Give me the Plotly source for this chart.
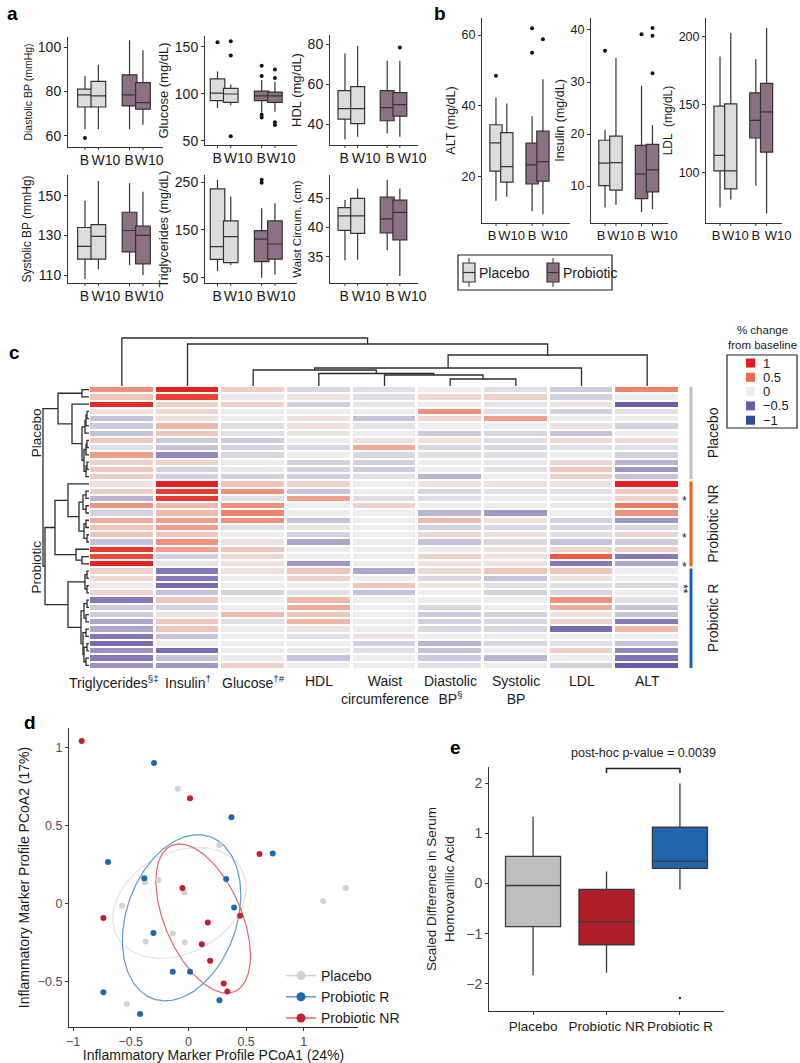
import numpy as np
import plotly.graph_objects as go
from plotly.colors import sample_colorscale

W, H = 800, 1063
FONT = "Liberation Sans, Arial, Helvetica, sans-serif"
INK = "#1a1a1a"
AXC = "#333333"
GREYTXT = "#4d4d4d"

# ====================== DATA ======================
# Panels a & b: [lower whisker, Q1, median, Q3, upper whisker]
# box order: Placebo B, Placebo W10, Probiotic B, Probiotic W10
TIME_LABELS = ["B", "W10", "B", "W10"]
ARMS = ["Placebo", "Probiotic"]
ARM_OF_BOX = [0, 0, 1, 1]

DIASTOLIC = [[63, 73, 78.5, 81, 87], [63, 73, 78, 84.5, 92], [63, 73.5, 78.5, 87.5, 103], [65, 72, 75, 84, 98.5]]
DIASTOLIC_OUT = [[59], [], [], []]
GLUCOSE = [[85, 93, 101, 116, 124], [88, 91, 100, 106, 110], [80, 93, 98, 103, 115], [81, 91, 98, 102, 113]]
GLUCOSE_OUT = [[155], [156, 141, 55], [130, 119, 78, 75], [126, 117, 70, 67]]
HDL = [[32.3, 42.5, 47.8, 56.7, 75.3], [33.7, 40.3, 47.8, 58.7, 79], [35.3, 41.7, 48.3, 56.7, 71.7], [33.7, 44, 49.8, 55.7, 71.7]]
HDL_OUT = [[], [], [], [78.3]]
SYSTOLIC = [[108, 118, 124.5, 134, 147.5], [113, 118, 129.5, 135.5, 157.5], [115, 121.7, 132.5, 141.7, 156.3], [110, 115.7, 130, 134.7, 152]]
SYSTOLIC_OUT = [[], [], [], []]
TRIG = [[64, 88.5, 115, 236, 255], [76.5, 81.5, 136, 169, 220], [50, 83.6, 131, 148.6, 195.5], [57, 89, 120.6, 169, 206]]
TRIG_OUT = [[], [], [255, 249], []]
WAIST = [[34.4, 39.5, 42, 43.4, 44.7], [34.5, 39, 42, 45, 46.7], [36.1, 39.1, 41.5, 45.2, 48.2], [31.7, 37.9, 42.6, 44.7, 46.7]]
WAIST_OUT = [[], [], [], []]

ALT = [[13.3, 21.6, 29.6, 34.7, 42.4], [14.4, 18.5, 22.9, 32.5, 40.7], [10.3, 18, 23.4, 29.5, 37.1], [9.5, 18.8, 24.3, 32.9, 47.5]]
ALT_OUT = [[48.5], [], [61.9, 55], [58.8]]
INSULIN = [[5.9, 10.1, 14.4, 18.8, 20.8], [6.4, 9.2, 14.5, 19.6, 34.6], [5.0, 7.6, 12.3, 17.8, 29.3], [5.6, 8.9, 13.1, 18.0, 21.7]]
INSULIN_OUT = [[36], [], [39.2], [40.4, 38.9, 31.7]]
LDL = [[74.4, 101.2, 112.6, 148.8, 185.2], [80.3, 88, 101.2, 150.5, 202.5], [90.4, 125.4, 138.4, 158.6, 183.3], [70, 115, 144.6, 165.5, 206.2]]
LDL_OUT = [[], [], [], []]

# Panel c: % change from baseline (rows top->bottom, columns as labelled)
HEAT_COLUMNS = ["Triglycerides<sup>§‡</sup>", "Insulin<sup>†</sup>", "Glucose<sup>†#</sup>", "HDL",
                "Waist<br>circumference", "Diastolic<br>BP<sup>§</sup>", "Systolic<br>BP", "LDL", "ALT"]
HEAT = [
    [0.35, 0.95, 0.12, -0.08, -0.05, 0.0, -0.05, -0.12, 0.4],
    [0.15, 0.75, 0.02, 0.05, -0.05, 0.08, 0.1, -0.1, 0.0],
    [0.9, 0.1, 0.1, -0.1, -0.03, 0.0, -0.03, 0.05, -0.5],
    [0.05, 0.08, 0.0, 0.0, 0.0, 0.35, -0.05, -0.1, -0.05],
    [-0.15, 0.05, 0.0, 0.05, -0.15, 0.08, 0.3, 0.0, 0.0],
    [-0.12, 0.2, -0.05, 0.05, -0.03, 0.0, 0.0, 0.05, -0.1],
    [-0.15, 0.15, -0.05, 0.05, 0.0, -0.12, -0.08, -0.15, 0.0],
    [0.15, -0.12, -0.12, 0.0, 0.05, 0.05, -0.05, 0.08, 0.08],
    [-0.05, -0.15, -0.1, -0.08, 0.25, -0.08, -0.08, -0.05, -0.05],
    [0.3, -0.35, -0.08, 0.0, -0.08, -0.05, -0.05, 0.0, -0.1],
    [0.1, 0.1, 0.0, -0.1, -0.1, 0.0, -0.02, 0.08, -0.2],
    [0.15, -0.1, 0.02, -0.1, -0.12, 0.0, -0.05, 0.15, -0.3],
    [0.12, -0.1, -0.1, -0.1, -0.05, -0.2, 0.0, 0.1, -0.15],
    [0.05, 0.95, 0.15, 0.1, 0.0, 0.05, 0.05, 0.05, 0.95],
    [0.12, 0.8, 0.35, -0.15, 0.0, -0.08, -0.05, -0.05, 0.15],
    [-0.2, 0.8, -0.05, 0.3, -0.05, -0.05, 0.0, 0.0, 0.1],
    [0.35, 0.2, 0.35, 0.0, 0.1, 0.0, 0.0, 0.02, 0.45],
    [-0.1, 0.2, 0.4, 0.0, 0.0, -0.2, -0.3, 0.0, 0.35],
    [0.25, 0.3, 0.35, -0.15, 0.0, 0.2, 0.05, -0.1, -0.3],
    [0.15, 0.3, -0.05, 0.05, 0.0, -0.1, -0.08, -0.08, -0.08],
    [0.15, 0.15, 0.0, -0.1, 0.0, 0.08, 0.05, -0.05, 0.1],
    [-0.15, 0.35, 0.05, -0.25, 0.0, -0.15, -0.08, -0.15, -0.12],
    [0.8, 0.3, 0.15, 0.0, 0.0, 0.0, 0.05, 0.1, 0.12],
    [0.7, -0.1, 0.08, 0.0, 0.0, 0.1, 0.05, 0.6, -0.4],
    [0.95, -0.03, 0.05, -0.3, 0.0, 0.05, 0.05, -0.4, -0.25],
    [0.1, -0.4, 0.05, 0.15, -0.25, 0.08, 0.15, 0.15, 0.0],
    [0.08, -0.4, 0.0, 0.1, 0.0, -0.08, -0.15, 0.05, 0.0],
    [0.02, -0.45, 0.0, 0.0, 0.15, 0.05, -0.05, -0.05, -0.08],
    [0.1, -0.15, -0.1, -0.05, -0.15, 0.0, -0.1, -0.08, 0.0],
    [-0.4, 0.15, 0.0, 0.2, 0.0, 0.0, 0.0, 0.35, -0.05],
    [-0.12, -0.1, 0.0, 0.25, 0.0, -0.08, 0.0, 0.25, -0.15],
    [-0.12, 0.05, 0.2, 0.15, 0.0, -0.12, -0.1, 0.05, -0.15],
    [-0.25, 0.15, -0.05, 0.2, 0.0, -0.1, -0.08, 0.1, -0.4],
    [-0.25, 0.15, 0.0, 0.05, 0.0, -0.08, -0.08, -0.45, 0.2],
    [-0.4, -0.15, 0.0, -0.05, 0.05, 0.0, 0.0, 0.0, 0.0],
    [-0.45, 0.0, 0.0, 0.0, -0.1, -0.2, -0.08, -0.05, -0.15],
    [-0.32, -0.45, 0.0, 0.02, -0.05, -0.15, 0.0, 0.12, -0.35],
    [-0.4, -0.15, 0.0, -0.15, 0.0, -0.12, -0.2, 0.0, -0.42],
    [-0.32, -0.3, 0.1, 0.0, 0.0, -0.05, 0.0, -0.1, -0.55],
]
ROW_GROUPS = ["Placebo", "Probiotic NR", "Probiotic R"]
ROW_GROUP_SIZES = [13, 12, 14]
ROW_GROUP_COLORS = ["#BDBDBD", "#E8601C", "#1D5FA8"]
ASTERISK_ROWS = [15, 20, 24]
DOUBLE_ASTERISK_ROWS = [27, 28]
LEGEND_VALUES = [1, 0.5, 0, -0.5, -1]
LEGEND_LABELS = ["1", "0.5", "0", "\u22120.5", "\u22121"]

# dendrograms: [merge height, left, right]; ints are leaf indices
COL_TREE = [48, 0, [42, 1, [31, [18, [16, 2, [12.5, 3, [11, 4, [7, 5, 6]]]], 7], 8]]]
ROW_TREE_PLACEBO = [31, [7, 0, 1], [17, 2, [7, [4, [3, [2, 3, 4], 5], 6],
                                           [5, [3, [2, 7, 8], 9], [3, [2, 10, 11], 12]]]]]
ROW_TREE_NR = [34, [21, 13, [10, [6, [3, 14, 15], [3, 16, 17]], [5, [3, 18, 19], [2, 20, 21]]]],
               [13, 22, [7, 23, 24]]]
ROW_TREE_R = [21, [4, [2, 25, 26], [2, 27, 28]],
              [8, [5, [2, 29, 30], [3, 31, 32]], [6, [3, 33, 34], [5, [2, 35, 36], [3, 37, 38]]]]]
ROW_TREE = [46, ROW_TREE_PLACEBO, [44, ROW_TREE_NR, ROW_TREE_R]]

# Panel d: PCoA scores
PLACEBO_PC1 = [-0.092, 0.269, -0.376, -0.26, -0.035, -0.575, -0.136, -0.37, -0.032, -0.535, 1.364, 1.168]
PLACEBO_PC2 = [0.736, 0.376, 0.137, 0.152, 0.073, -0.013, -0.191, -0.242, -0.247, -0.642, 0.101, 0.017]
R_PC1 = [-0.298, 0.373, 0.731, -0.697, -0.382, 0.327, 0.396, -0.303, -0.136, 0.014, -0.737, 0.269, -0.419]
R_PC2 = [0.901, 0.554, 0.322, 0.268, 0.163, 0.159, -0.024, -0.187, -0.436, -0.436, -0.567, -0.618, -0.706]
NR_PC1 = [-0.925, 0.014, 0.616, -0.052, -0.737, 0.168, 0.448, 0.116, 0.188, 0.306, 0.338]
NR_PC2 = [1.043, 0.676, 0.318, 0.101, -0.092, -0.12, -0.077, -0.26, -0.365, -0.511, -0.562]
PC_GROUPS = ["Placebo", "Probiotic R", "Probiotic NR"]
PC_COLORS = ["#D2D2D2", "#1F66B0", "#C1202D"]
ELL_COLORS = ["#E2E2E2", "#5E97D3", "#E0646C"]
ELL_CX = [-0.078, -0.059, 0.128]
ELL_CY = [0.005, -0.09, -0.095]
ELL_RX = [0.578, 0.513, 0.41]
ELL_RY = [0.355, 0.532, 0.478]
ELL_PHI_DEG = [74, 74, 120]

# Panel e
E_GROUPS = ["Placebo", "Probiotic NR", "Probiotic R"]
E_STATS = [[-1.83, -0.86, -0.04, 0.54, 1.33], [-1.78, -1.22, -0.76, -0.12, 0.24], [-0.12, 0.30, 0.44, 1.12, 1.99]]
E_OUT = [[], [], [-2.28]]
E_COLORS = ["#BEBEBE", "#B01E2B", "#2166AC"]
E_BRACKET = ["Probiotic NR", "Probiotic R"]
E_BRACKET_Y = [2.2, 2.29]
E_PVALUE_Y = 2.6
E_PVALUE_TEXT = "post-hoc p-value = 0.0039"

# ====================== HELPERS ======================
def xdom(a, b):
    return [a / W, b / W]


def ydom(top, bot):
    return [1 - bot / H, 1 - top / H]


layout = {}


def make_axes(i, xd, yd, xkw, ykw):
    s = "" if i == 1 else str(i)
    layout["xaxis" + s] = dict(domain=xd, anchor="y" + s, automargin=False, **xkw)
    layout["yaxis" + s] = dict(domain=yd, anchor="x" + s, automargin=False, **ykw)
    return "x" + s, "y" + s


def axstyle(size, color=INK):
    return dict(showline=True, linecolor=AXC, linewidth=1, ticks="outside", ticklen=3,
                tickcolor=AXC, showgrid=False, zeroline=False, mirror=False, tickangle=0,
                tickfont=dict(size=size, color=color, family=FONT))


def ann(**kw):
    d = dict(showarrow=False, xanchor="center", yanchor="middle")
    d.update(kw)
    return d


hidden = dict(visible=False, showgrid=False, zeroline=False)

fig = go.Figure()
shapes = []
annotations = []
ARM_COLORS = ["#DCDCDC", "#8C7085"]
BOX_POS = [0.85, 1.15, 1.85, 2.15]

# ---------- panels a & b ----------
AB_PANELS = [
    ("Diastolic BP (mmHg)", DIASTOLIC, DIASTOLIC_OUT),
    ("Glucose (mg/dL)", GLUCOSE, GLUCOSE_OUT),
    ("HDL (mg/dL)", HDL, HDL_OUT),
    ("Systolic BP (mmHg)", SYSTOLIC, SYSTOLIC_OUT),
    ("Triglycerides (mg/dL)", TRIG, TRIG_OUT),
    ("Waist Circum. (cm)", WAIST, WAIST_OUT),
    ("ALT (mg/dL)", ALT, ALT_OUT),
    ("Insulin (mg/dL)", INSULIN, INSULIN_OUT),
    ("LDL  (mg/dL)", LDL, LDL_OUT),
]
TK1 = [0.84, 1.32, 1.84, 2.29]
TK3 = [0.83, 1.35, 1.92, 2.44]
TKB = [0.74, 1.28, 1.85, 2.47]
# geometry: x pixels, y pixels, y range, y ticks, title size, x range, box width, tick size, x tick positions
AB_GEOM = [
    ((68, 163), (37, 147), (55, 104.5), [60, 80, 100], 10.5, (0.469, 2.60), 0.33, 14, TK1),
    ((205, 297), (36, 145), (45.7, 161.7), [50, 100, 150], 13, (0.567, 2.65), 0.33, 14, TK1),
    ((330, 418), (35, 145), (29.6, 84.5), [40, 60, 80], 13, (0.495, 2.58), 0.33, 14, TK3),
    ((68, 163), (175, 283), (106, 160.5), [110, 130, 150], 12, (0.469, 2.60), 0.33, 14, TK1),
    ((205, 297), (175, 283), (39, 265), [50, 150, 250], 12.5, (0.567, 2.65), 0.33, 14, TK1),
    ((330, 418), (175, 283), (30.5, 49), [35, 40, 45], 11.5, (0.495, 2.58), 0.33, 14, TK3),
    ((482, 570), (18, 223), (7, 64.8), [20, 40, 60], 12.5, (0.463, 2.9), 0.34, 12.5, TKB),
    ((591, 668), (18, 223), (2.9, 42.3), [10, 20, 30, 40], 12.5, (0.466, 2.575), 0.34, 12.5, TKB),
    ((706, 782), (18, 223), (63, 213.5), [100, 150, 200], 12, (0.459, 2.58), 0.34, 12.5, TKB),
]

for k, ((title, stats, outs), geom) in enumerate(zip(AB_PANELS, AB_GEOM)):
    (xa, xb), (yt, yb), yr, tv, tsize, xr, bw, ticksz, tkx = geom
    xk, yk = make_axes(
        k + 1, xdom(xa, xb), ydom(yt, yb),
        dict(axstyle(14 if k < 6 else 13), range=list(xr), tickvals=tkx, ticktext=TIME_LABELS, ticks=""),
        dict(axstyle(ticksz), range=list(yr), tickvals=tv,
             title=dict(text=title, font=dict(size=tsize, color=INK, family=FONT), standoff=3)),
    )
    for j, (st, pos) in enumerate(zip(stats, BOX_POS)):
        arm = ARM_OF_BOX[j]
        fig.add_trace(go.Box(
            x=[pos], lowerfence=[st[0]], q1=[st[1]], median=[st[2]], q3=[st[3]], upperfence=[st[4]],
            width=bw, whiskerwidth=0, fillcolor=ARM_COLORS[arm], line=dict(color=AXC, width=1.2),
            boxpoints=False, name=ARMS[arm], showlegend=False,
            xaxis=xk, yaxis=yk, hoverinfo="skip"))
        if outs[j]:
            fig.add_trace(go.Scatter(x=[pos] * len(outs[j]), y=outs[j], mode="markers",
                                     marker=dict(color="#111", size=4), showlegend=False,
                                     xaxis=xk, yaxis=yk, hoverinfo="skip"))
    # short tick marks under each box
    for pos in BOX_POS:
        shapes.append(dict(type="line", xref=xk, yref="paper", x0=pos, x1=pos,
                           y0=1 - (yb + 3) / H, y1=1 - yb / H, line=dict(color=AXC, width=1)))

# legend of panel b (drawn as a key box)
shapes.append(dict(type="rect", xref="paper", yref="paper", x0=458 / W, x1=612 / W,
                   y0=1 - 290 / H, y1=1 - 255 / H, line=dict(color="#222", width=1.2)))
for i, (arm, col) in enumerate(zip(ARMS, ARM_COLORS)):
    gx = 469 + i * 84
    shapes.append(dict(type="line", xref="paper", yref="paper", x0=gx / W, x1=gx / W,
                       y0=1 - 287 / H, y1=1 - 258 / H, line=dict(color=AXC, width=1)))
    shapes.append(dict(type="rect", xref="paper", yref="paper", x0=(gx - 6) / W, x1=(gx + 6) / W,
                       y0=1 - 282 / H, y1=1 - 263 / H, fillcolor=col, line=dict(color=AXC, width=1.2)))
    shapes.append(dict(type="line", xref="paper", yref="paper", x0=(gx - 6) / W, x1=(gx + 6) / W,
                       y0=1 - 272.5 / H, y1=1 - 272.5 / H, line=dict(color=AXC, width=1.2)))
    annotations.append(ann(text=arm, xref="paper", yref="paper", x=(gx + 8) / W, y=1 - 273 / H,
                           xanchor="left", font=dict(size=14, color=INK, family=FONT)))

# ---------- panel c: heatmap ----------
CS = [[0.0, "#2E4D9F"], [0.25, "#6D5CA9"], [0.5, "#EDEDED"], [0.75, "#F06A4B"], [1.0, "#E41A1C"]]
n_rows, n_cols = len(HEAT), len(HEAT_COLUMNS)
HX = (89, 680)
HY = (386, 669)
xh, yh = make_axes(10, xdom(*HX), ydom(*HY),
                   dict(range=[-0.5, n_cols - 0.5], showticklabels=False, showline=False, ticks="",
                        showgrid=False, zeroline=False),
                   dict(range=[n_rows - 0.5, -0.5], **hidden))
fig.add_trace(go.Heatmap(z=HEAT, x=list(range(n_cols)), y=list(range(n_rows)), zmin=-1, zmax=1,
                         colorscale=CS, showscale=False, xgap=3, ygap=2, xaxis=xh, yaxis=yh,
                         hoverinfo="skip"))
for ci, lab in enumerate(HEAT_COLUMNS):
    annotations.append(ann(text=lab, xref=xh, yref="paper", x=ci, y=1 - 671 / H, yanchor="top",
                           xshift=-8 if ci == 0 else 0,
                           font=dict(size=14, color=INK, family=FONT)))


def dendro(tree):
    if isinstance(tree, int):
        return float(tree), 0.0, []
    h, l, r = tree
    pl, hl, sl = dendro(l)
    pr, hr, sr = dendro(r)
    seg = [(pl, hl), (pl, h), (pr, h), (pr, hr)]
    return (pl + pr) / 2, h, sl + sr + [seg]


# top (column) dendrogram
xt, yt_ = make_axes(11, xdom(*HX), ydom(335, 386), dict(range=[-0.5, n_cols - 0.5], **hidden),
                    dict(range=[0, 51], **hidden))
_, _, segs = dendro(COL_TREE)
lx, ly = [], []
for seg in segs:
    for p, h in seg:
        lx.append(p)
        ly.append(h)
    lx.append(None)
    ly.append(None)
fig.add_trace(go.Scatter(x=lx, y=ly, mode="lines", line=dict(color="#2b2b2b", width=1.3),
                         xaxis=xt, yaxis=yt_, showlegend=False, hoverinfo="skip"))

# left (row) dendrogram
xl, yl = make_axes(12, xdom(40, 89), ydom(*HY), dict(range=[49, 0], **hidden),
                   dict(range=[n_rows - 0.5, -0.5], **hidden))
_, _, segs = dendro(ROW_TREE)
lx, ly = [], []
for seg in segs:
    for p, h in seg:
        lx.append(h)
        ly.append(p)
    lx.append(None)
    ly.append(None)
fig.add_trace(go.Scatter(x=lx, y=ly, mode="lines", line=dict(color="#2b2b2b", width=1.3),
                         xaxis=xl, yaxis=yl, showlegend=False, hoverinfo="skip"))

# group bars & labels on the right
start = 0
for name, size, col in zip(ROW_GROUPS, ROW_GROUP_SIZES, ROW_GROUP_COLORS):
    end = start + size - 1
    shapes.append(dict(type="line", xref="paper", yref=yh, x0=691 / W, x1=691 / W,
                       y0=start - 0.35, y1=end + 0.35, line=dict(color=col, width=3)))
    annotations.append(ann(text=name, xref="paper", yref=yh, x=713 / W, y=(start + end) / 2,
                           textangle=-90, font=dict(size=14, color=INK, family=FONT)))
    start = end + 1
for r in ASTERISK_ROWS:
    annotations.append(ann(text="*", xref="paper", yref=yh, x=684 / W, y=r, yshift=-3,
                           font=dict(size=12, color=INK, family=FONT)))
annotations.append(ann(text="**", xref="paper", yref=yh, x=683 / W,
                       y=sum(DOUBLE_ASTERISK_ROWS) / len(DOUBLE_ASTERISK_ROWS), textangle=90,
                       font=dict(size=12, color=INK, family=FONT)))
# left labels
annotations.append(ann(text="Placebo", xref="paper", yref=yh, x=36 / W, y=(ROW_GROUP_SIZES[0] - 1) / 2,
                       textangle=-90, font=dict(size=13.5, color=INK, family=FONT)))
annotations.append(ann(text="Probiotic", xref="paper", yref=yh, x=36 / W,
                       y=(ROW_GROUP_SIZES[0] + n_rows - 1) / 2 - 1,
                       textangle=-90, font=dict(size=13.5, color=INK, family=FONT)))

# colour key
key_colors = sample_colorscale(CS, [(v + 1) / 2 for v in LEGEND_VALUES])
annotations.append(ann(text="% change<br>from baseline", xref="paper", yref="paper", x=762 / W,
                       y=1 - 337 / H, align="center", font=dict(size=11.5, color=INK, family=FONT)))
shapes.append(dict(type="rect", xref="paper", yref="paper", x0=727 / W, x1=797 / W,
                   y0=1 - 428 / H, y1=1 - 355 / H, line=dict(color="#222", width=1.2)))
for i, (lab, c) in enumerate(zip(LEGEND_LABELS, key_colors)):
    yc = 363 + i * 14.3
    shapes.append(dict(type="rect", xref="paper", yref="paper", x0=746 / W, x1=755 / W,
                       y0=1 - (yc + 4.5) / H, y1=1 - (yc - 4.5) / H, fillcolor=c, line=dict(width=0)))
    annotations.append(ann(text=lab, xref="paper", yref="paper", x=761 / W, y=1 - yc / H,
                           xanchor="left", font=dict(size=13, color=INK, family=FONT)))

# ---------- panel d ----------
xd_, yd_ = make_axes(13, xdom(69, 358), ydom(728, 1027),
                     dict(axstyle(12.5, GREYTXT), range=[-1.035, 1.47], tickvals=[-1, -0.5, 0, 0.5, 1],
                          title=dict(text="Inflammatory Marker Profile PCoA1 (24%)",
                                     font=dict(size=14, color=INK, family=FONT), standoff=4)),
                     dict(axstyle(12.5, GREYTXT), range=[-0.79, 1.126], tickvals=[-0.5, 0, 0.5, 1],
                          title=dict(text="Inflammatory Marker Profile PCoA2 (17%)",
                                     font=dict(size=14, color=INK, family=FONT), standoff=4)))
PC_X = [PLACEBO_PC1, R_PC1, NR_PC1]
PC_Y = [PLACEBO_PC2, R_PC2, NR_PC2]
t = np.linspace(0, 2 * np.pi, 200)
for g in range(3):
    phi = np.deg2rad(ELL_PHI_DEG[g])
    ex = ELL_CX[g] + ELL_RX[g] * np.cos(t)
    ey = ELL_CY[g] + ELL_RY[g] * np.cos(t - phi)
    fig.add_trace(go.Scatter(x=ex, y=ey, mode="lines", line=dict(color=ELL_COLORS[g], width=1.2),
                             xaxis=xd_, yaxis=yd_, showlegend=False, hoverinfo="skip"))
for g in range(3):
    fig.add_trace(go.Scatter(x=PC_X[g], y=PC_Y[g], mode="markers",
                             marker=dict(color=PC_COLORS[g], size=6),
                             xaxis=xd_, yaxis=yd_, showlegend=False, hoverinfo="skip"))
for g in range(3):
    fig.add_trace(go.Scatter(x=[None], y=[None], mode="lines+markers", name=PC_GROUPS[g],
                             marker=dict(color=PC_COLORS[g], size=9),
                             line=dict(color=ELL_COLORS[g] if g else PC_COLORS[g], width=1.5),
                             xaxis=xd_, yaxis=yd_, showlegend=True))

# ---------- panel e ----------
E_YRANGE = [-2.54, 2.32]
E_YDOM = ydom(767, 1011)
xe, ye = make_axes(14, xdom(489, 724), E_YDOM,
                   dict(axstyle(13.5, INK), type="category", range=[-0.6, 2.6],
                        categoryorder="array", categoryarray=E_GROUPS),
                   dict(axstyle(14, GREYTXT), range=E_YRANGE, tickvals=[-2, -1, 0, 1, 2],
                        title=dict(text="Scaled Difference in Serum<br>Homovanillic Acid",
                                   font=dict(size=13.5, color=INK, family=FONT), standoff=8)))
for g, (name, st, col) in enumerate(zip(E_GROUPS, E_STATS, E_COLORS)):
    fig.add_trace(go.Box(x=[name], lowerfence=[st[0]], q1=[st[1]], median=[st[2]], q3=[st[3]],
                         upperfence=[st[4]], width=0.75, whiskerwidth=0, fillcolor=col,
                         line=dict(color="#3a3a3a", width=1.3), boxpoints=False, showlegend=False,
                         xaxis=xe, yaxis=ye, hoverinfo="skip"))
    if E_OUT[g]:
        fig.add_trace(go.Scatter(x=[name] * len(E_OUT[g]), y=E_OUT[g], mode="markers",
                                 marker=dict(color="#333", size=2.5), showlegend=False,
                                 xaxis=xe, yaxis=ye, hoverinfo="skip"))
fig.add_trace(go.Scatter(x=[E_BRACKET[0], E_BRACKET[0], E_BRACKET[1], E_BRACKET[1]],
                         y=[E_BRACKET_Y[0], E_BRACKET_Y[1], E_BRACKET_Y[1], E_BRACKET_Y[0]],
                         mode="lines", line=dict(color="#222", width=1.6),
                         xaxis=xe, yaxis=ye, showlegend=False, hoverinfo="skip"))
p_paper = E_YDOM[0] + (E_PVALUE_Y - E_YRANGE[0]) / (E_YRANGE[1] - E_YRANGE[0]) * (E_YDOM[1] - E_YDOM[0])
annotations.append(ann(text=E_PVALUE_TEXT, xref=xe, yref="paper", x=1.5, y=p_paper,
                       font=dict(size=12.5, color=INK, family=FONT)))

# panel letters
for letter, px, py in [("a", 12, 14), ("b", 440, 14), ("c", 14, 352), ("d", 30, 722), ("e", 456, 747)]:
    annotations.append(ann(text="<b>%s</b>" % letter, xref="paper", yref="paper", x=px / W, y=1 - py / H,
                           font=dict(size=19, color="#000", family=FONT)))

fig.update_layout(
    width=W, height=H, margin=dict(l=0, r=0, t=0, b=0, autoexpand=False),
    paper_bgcolor="white", plot_bgcolor="white",
    font=dict(family=FONT, color=INK), boxmode="overlay", showlegend=True,
    legend=dict(x=281 / W, y=1 - 960 / H, xanchor="left", yanchor="top", bgcolor="rgba(0,0,0,0)",
                font=dict(size=14, color=INK, family=FONT), tracegroupgap=0),
    shapes=shapes, annotations=annotations, **layout)

fig.write_html("out.html", config={"displayModeBar": False},
               post_script="document.body.style.margin='0px';")
